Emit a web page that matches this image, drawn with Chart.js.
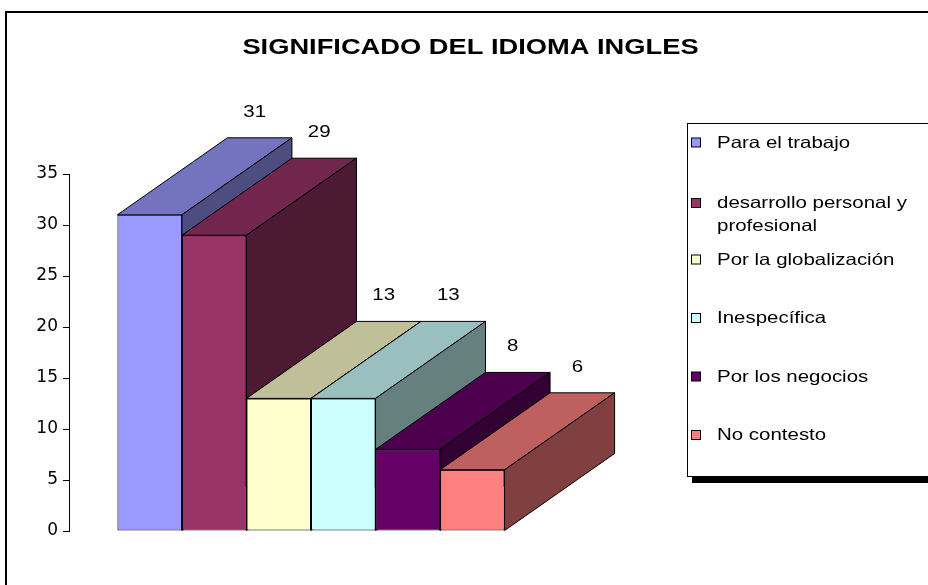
<!DOCTYPE html>
<html><head><meta charset="utf-8">
<script src="https://cdn.jsdelivr.net/npm/chart.js@4"></script>
<style>html,body{margin:0;padding:0;background:#fff;overflow:hidden}canvas{display:block}</style>
</head><body>
<canvas id="c" width="928" height="585"></canvas>
<script>
const chartTitle = 'SIGNIFICADO DEL IDIOMA INGLES';
const categories = [''];
const seriesNames = ['Para el trabajo', ['desarrollo personal y', 'profesional'], 'Por la globalización', 'Inespecífica', 'Por los negocios', 'No contesto'];
const seriesValues = [31, 29, 13, 13, 8, 6];
const seriesColors = ['#9999FF', '#993366', '#FFFFCC', '#CCFFFF', '#660066', '#FF8080'];
const yTicks = [0, 5, 10, 15, 20, 25, 30, 35];

const DX = 110, DY = -77, STRETCH = 1.24;
const FONT = '"Liberation Sans", Arial, sans-serif';

function shade(hex, f) {
  const n = parseInt(hex.slice(1), 16);
  const r = Math.round(((n >> 16) & 255) * f), g = Math.round(((n >> 8) & 255) * f), b = Math.round((n & 255) * f);
  return 'rgb(' + r + ',' + g + ',' + b + ')';
}
function poly(ctx, pts, fill) {
  ctx.beginPath();
  ctx.moveTo(pts[0][0], pts[0][1]);
  for (let k = 1; k < pts.length; k++) ctx.lineTo(pts[k][0], pts[k][1]);
  ctx.closePath();
  ctx.fillStyle = fill; ctx.fill();
  ctx.lineWidth = 1; ctx.strokeStyle = '#000'; ctx.stroke();
}
function sText(ctx, text, x, y, font, align) {
  ctx.save();
  ctx.font = font;
  const w = ctx.measureText(text).width * STRETCH;
  let x0 = x;
  if (align === 'center') x0 = x - w / 2; else if (align === 'right') x0 = x - w;
  ctx.translate(x0, y);
  ctx.scale(STRETCH, 1);
  ctx.textAlign = 'left';
  ctx.textBaseline = 'alphabetic';
  ctx.fillStyle = '#000';
  ctx.fillText(text, 0, 0);
  ctx.restore();
}

const frameAndTitle = {
  id: 'frameAndTitle',
  beforeDraw(chart) {
    const ctx = chart.ctx;
    ctx.save();
    ctx.fillStyle = '#fff';
    ctx.fillRect(0, 0, chart.width, chart.height);
    ctx.strokeStyle = '#000';
    ctx.lineWidth = 2;
    ctx.beginPath();
    ctx.moveTo(6, chart.height + 5);
    ctx.lineTo(6, 12);
    ctx.lineTo(chart.width + 5, 12);
    ctx.stroke();
    ctx.restore();
    sText(ctx, chartTitle, 470.5, 54, 'bold 22px ' + FONT, 'center');
  }
};

const bars3d = {
  id: 'bars3d',
  beforeDatasetsDraw(chart) {
    const ctx = chart.ctx;
    const labels = [];
    chart.data.datasets.forEach((ds, i) => {
      const meta = chart.getDatasetMeta(i);
      const color = seriesColors[i];
      meta.data.forEach((bar, j) => {
        const p = bar.getProps(['x', 'y', 'base', 'width'], true);
        const xL = p.x - p.width / 2, xR = p.x + p.width / 2, yT = p.y, yB = p.base;
        bar.draw(ctx);
        ctx.save();
        ctx.lineJoin = 'miter';
        poly(ctx, [[xL, yT], [xR, yT], [xR + DX, yT + DY], [xL + DX, yT + DY]], shade(color, 0.75));
        poly(ctx, [[xR, yT], [xR + DX, yT + DY], [xR + DX, yB + DY], [xR, yB]], shade(color, 0.5));
        ctx.restore();
        labels.push([String(ds.data[j]), xL + DX + p.width / 2 - 5, yT + DY - 21]);
      });
    });
    labels.forEach(l => sText(ctx, l[0], l[1], l[2], '16.5px ' + FONT, 'center'));
    return false;
  }
};

const legendBox = {
  id: 'legendBox',
  afterDraw(chart) {
    const ctx = chart.ctx;
    ctx.save();
    ctx.fillStyle = '#000';
    ctx.fillRect(692, 477, chart.width, 6);
    ctx.fillStyle = '#fff';
    ctx.fillRect(687.5, 123.5, chart.width, 353);
    ctx.strokeStyle = '#000';
    ctx.lineWidth = 1;
    ctx.strokeRect(687.5, 123.5, chart.width, 353);
    ctx.restore();
    seriesNames.forEach((name, i) => {
      const lines = Array.isArray(name) ? name : [name];
      const base = 147.5 + i * 58.5 + (lines.length > 1 ? 2 : 0);
      ctx.save();
      ctx.fillStyle = '#000';
      ctx.fillRect(691, base - 10, 10, 10);
      ctx.fillStyle = seriesColors[i];
      ctx.fillRect(692, base - 9, 8, 8);
      ctx.restore();
      lines.forEach((t, k) => sText(ctx, t, 717, base + k * 23, '16.5px ' + FONT, 'left'));
    });
  }
};

new Chart(document.getElementById('c'), {
  type: 'bar',
  data: {
    labels: categories,
    datasets: seriesValues.map((v, i) => ({
      label: Array.isArray(seriesNames[i]) ? seriesNames[i].join(' ') : seriesNames[i],
      data: [v],
      backgroundColor: seriesColors[i],
      borderColor: '#000',
      borderWidth: 1,
      borderSkipped: false,
      categoryPercentage: 0.8,
      barPercentage: 1.0
    }))
  },
  options: {
    responsive: false,
    animation: false,
    devicePixelRatio: 1,
    layout: { padding: { left: 0, right: 375, top: 174, bottom: 54 } },
    plugins: { legend: { display: false }, title: { display: false }, tooltip: { enabled: false } },
    scales: {
      x: { display: false, offset: true },
      y: {
        min: 0, max: 35,
        afterBuildTicks: s => { s.ticks = yTicks.map(v => ({ value: v })); },
        afterFit: s => { s.width = 69; },
        grid: { display: true, drawOnChartArea: false, drawTicks: true, tickLength: 6, color: '#000', lineWidth: 1 },
        border: { display: true, color: '#000', width: 1 },
        ticks: { color: '#000', font: { family: 'DejaVu Sans', size: 17 }, padding: 5 }
      }
    }
  },
  plugins: [frameAndTitle, bars3d, legendBox]
});
</script>
</body></html>
